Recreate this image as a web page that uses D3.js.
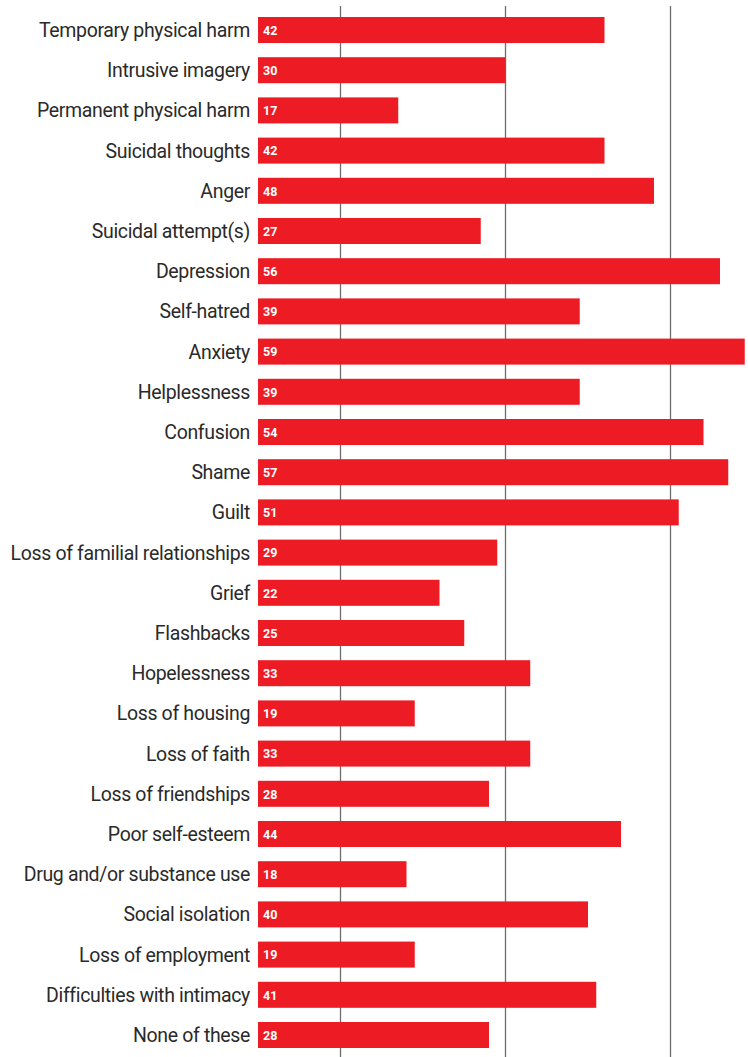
<!DOCTYPE html>
<html><head><meta charset="utf-8">
<script src="https://cdn.jsdelivr.net/npm/d3@7"></script>
<style>
html,body{margin:0;padding:0;background:#fff;}
svg{display:block;}
</style></head>
<body>
<svg id="chart" width="748" height="1057"></svg>
<script>
const categories = ["Temporary physical harm","Intrusive imagery","Permanent physical harm","Suicidal thoughts","Anger","Suicidal attempt(s)","Depression","Self-hatred","Anxiety","Helplessness","Confusion","Shame","Guilt","Loss of familial relationships","Grief","Flashbacks","Hopelessness","Loss of housing","Loss of faith","Loss of friendships","Poor self-esteem","Drug and/or substance use","Social isolation","Loss of employment","Difficulties with intimacy","None of these"];
const values = [42,30,17,42,48,27,56,39,59,39,54,57,51,29,22,25,33,19,33,28,44,18,40,19,41,28];
const gridTicks = [10,30,50];

const svg = d3.select("#chart");
const x = d3.scaleLinear().domain([0,60]).range([258,753]);
const y = d3.scaleBand().domain(categories).range([17,1048]).paddingInner(0.353).paddingOuter(0);

// gridlines
svg.append("g").selectAll("line").data(gridTicks).join("line")
  .attr("x1",d=>x(d)).attr("x2",d=>x(d))
  .attr("y1",6).attr("y2",1057)
  .attr("stroke","#6e6e6e").attr("stroke-width",1.3);

// bars
svg.append("g").selectAll("rect").data(values).join("rect")
  .attr("x",x(0))
  .attr("y",(d,i)=>y(categories[i]))
  .attr("width",d=>x(d)-x(0))
  .attr("height",y.bandwidth())
  .attr("fill","#ed1c24");

// category labels
svg.append("g").selectAll("text").data(categories).join("text")
  .attr("x",250)
  .attr("y",d=>y(d)+y.bandwidth()/2)
  .attr("dy","0.36em")
  .attr("text-anchor","end")
  .attr("font-family","Roboto, 'Liberation Sans', sans-serif")
  .attr("font-size",19.5)
  .attr("letter-spacing","-0.35")
  .attr("fill","#2a2a2a")
  .text(d=>d);

// value labels
svg.append("g").selectAll("text").data(values).join("text")
  .attr("x",x(0)+5)
  .attr("y",(d,i)=>y(categories[i])+y.bandwidth()/2)
  .attr("dy","0.38em")
  .attr("font-family","Roboto, 'Liberation Sans', sans-serif")
  .attr("font-weight","bold")
  .attr("font-size",12.5)
  .attr("fill","#fff")
  .text(d=>d);
</script>
</body></html>
